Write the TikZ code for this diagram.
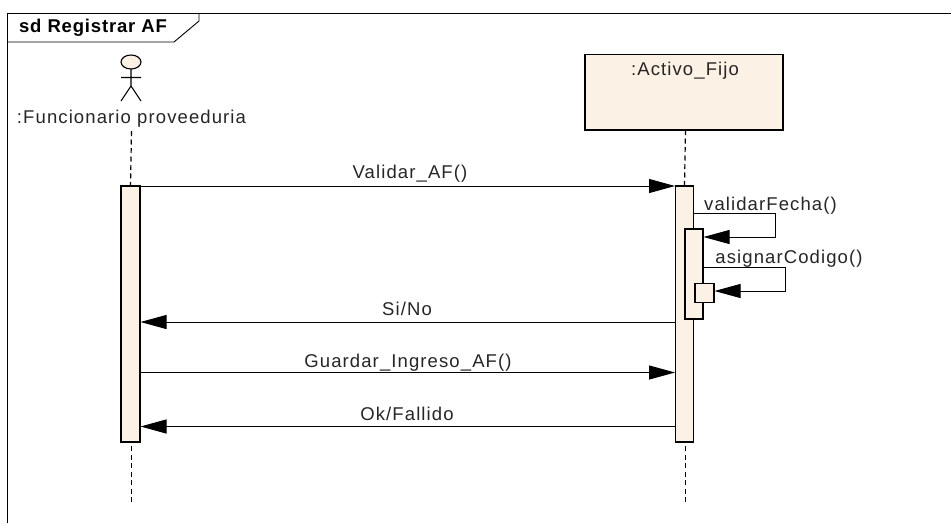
\documentclass[tikz,border=0pt]{standalone}
\usepackage{fontspec}
\setmainfont{Liberation Sans}
\newfontfamily\lblfont[LetterSpace=6]{Liberation Sans}
\newfontfamily\titlefont[LetterSpace=4.5]{Liberation Sans}
\usetikzlibrary{arrows.meta,shapes.geometric}
\definecolor{umlfill}{HTML}{FBF1E4}
\tikzset{
  x=1pt,y=-1pt,
  lbl/.style={inner sep=0pt,anchor=base,font=\fontsize{18.5}{22}\lblfont,text=black!85},
  box/.style={draw=black,fill=umlfill,line width=1.1pt,inner sep=0pt,outer sep=0pt,minimum width=#1},
  life/.style={line width=1.2pt,dash pattern=on 5pt off 3.5pt},
  msg/.style={line width=1pt,-{Triangle[length=26pt,width=14pt]},shorten >=0.5pt}
}
\begin{document}
\begin{tikzpicture}
\useasboundingbox (0,0) rectangle (951,523);
\fill[white] (0,0) rectangle (951,523);
% frame
\draw[line width=0.9pt] (7,523) -- (7,13) -- (951,13);
\node[inner sep=0pt,anchor=base,font=\fontsize{18.5}{22}\titlefont\bfseries] (title) at (93,32.5) {sd Registrar AF};
\draw[line width=0.9pt] (7,42) -- (174,42) -- (199,21) -- (199,13);
% actor
\node[draw=black,fill=umlfill,ellipse,line width=1.1pt,inner sep=0pt,minimum width=20pt,minimum height=14pt,outer sep=0pt] (head) at (131,62) {};
\coordinate (hip) at (131,86);
\coordinate (armL) at (121,77.5);
\coordinate (armR) at (141,77.5);
\coordinate (footL) at (121,101);
\coordinate (footR) at (141,101);
\draw[line width=1.1pt] (head.south) -- (hip) (armL) -- (armR) (footL) -- (hip) -- (footR);
\node[lbl] (funcionario) at (131.5,123) {:Funcionario proveeduria};
% object
\node[box=198pt,minimum height=75.5pt] (activo) at (684,92.25) {};
\node[lbl] (activoLbl) at (685,75) {:Activo\_Fijo};
% activations
\node[box=19pt,minimum height=256pt] (actA) at (130.5,314) {};
\node[box=18pt,minimum height=256pt] (actB) at (684.5,314) {};
\node[box=18pt,minimum height=90pt] (actC) at (694,274) {};
\node[box=19pt,minimum height=18.5pt] (actD) at (704.5,293) {};
% lifelines
\coordinate (endA) at (131.5,504);
\coordinate (endB) at (685.5,504);
\coordinate (startA) at (131.5,131);
\coordinate (startB) at (685.5,130);
\coordinate (resA) at (131.5,446);
\coordinate (resB) at (685.5,446);
\draw[life] (startA) -- (actA.north);
\draw[life] (startB) -- (actB.north);
\draw[life] (resA) -- (endA);
\draw[life] (resB) -- (endB);
% messages
\draw[msg] (actA.east |- 0,186) -- (actB.west |- 0,186);
\node[lbl] (m1) at (410,178) {Validar\_AF()};
\draw[msg] (actB.west |- 0,322) -- (actA.east |- 0,322);
\node[lbl] (m2) at (407,315) {Si/No};
\draw[msg] (actA.east |- 0,372.5) -- (actB.west |- 0,372.5);
\node[lbl] (m3) at (408,367) {Guardar\_Ingreso\_AF()};
\draw[msg] (actB.west |- 0,426.5) -- (actA.east |- 0,426.5);
\node[lbl] (m4) at (407,420) {Ok/Fallido};
% self messages
\draw[msg] (actB.east |- 0,213.5) -- (775,213.5) -- (775,237) -- (actC.east |- 0,237);
\node[lbl] (m5) at (770.5,210) {validarFecha()};
\draw[msg] (actC.east |- 0,267.5) -- (785.5,267.5) -- (785.5,291) -- (actD.east |- 0,291);
\node[lbl] (m6) at (789,263) {asignarCodigo()};
\end{tikzpicture}
\end{document}
